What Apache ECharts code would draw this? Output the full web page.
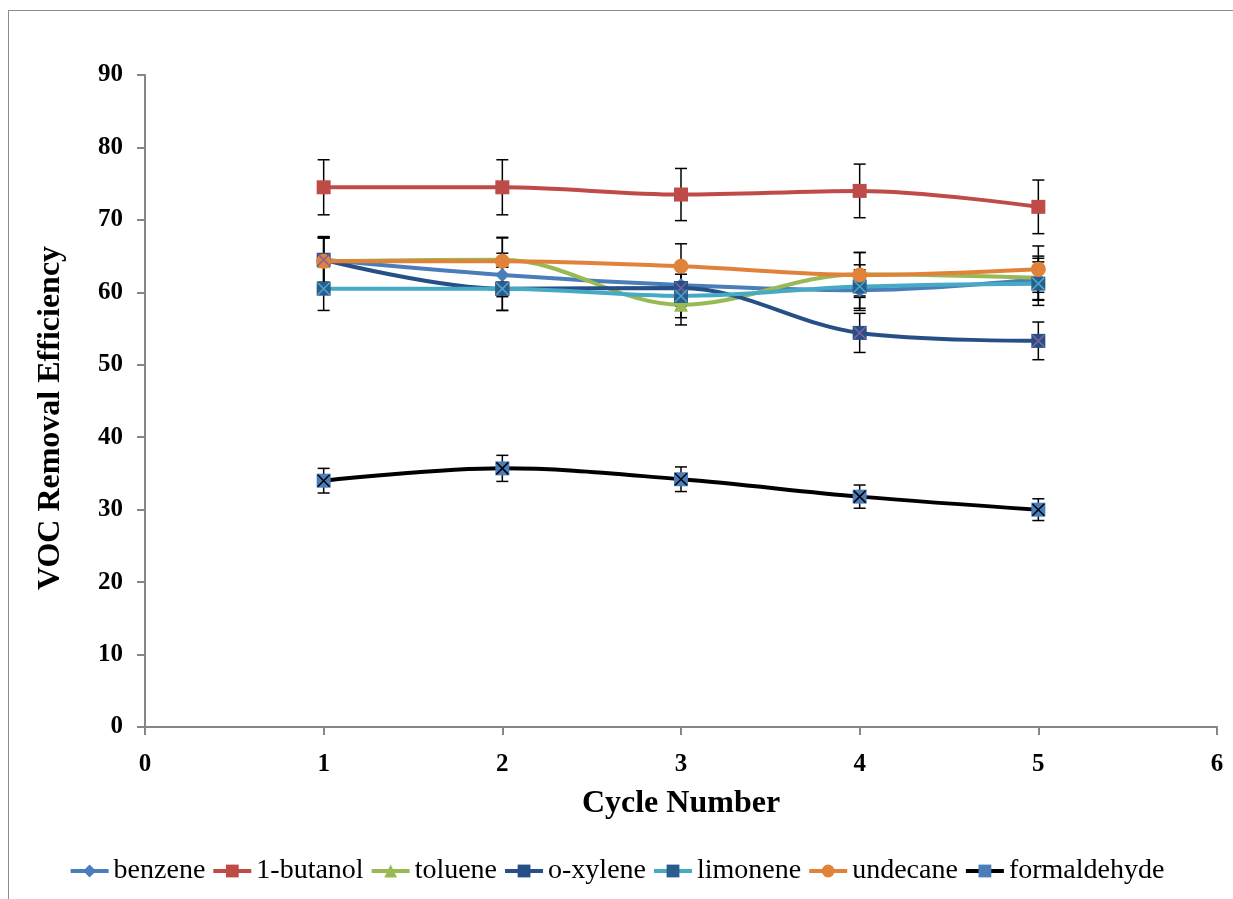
<!DOCTYPE html>
<html>
<head>
<meta charset="utf-8">
<script src="https://cdn.jsdelivr.net/npm/echarts@6/dist/echarts.min.js"></script>
<style>
  html, body { margin: 0; padding: 0; background: #fff; }
  #frame { position: absolute; left: 8px; top: 10px; width: 1240px; height: 900px;
           border-left: 1px solid #8c8c8c; border-top: 1px solid #8c8c8c; }
  #chart { position: absolute; left: 0; top: 0; width: 1233px; height: 899px; }
</style>
</head>
<body>
<div id="frame"></div>
<div id="chart"></div>
<script>
// Cycle numbers
const cycles = [1, 2, 3, 4, 5];

// Removal efficiency (%) per compound
const benzene      = [64.5, 62.4, 61.0, 60.3, 61.8];
const butanol      = [74.5, 74.5, 73.5, 74.0, 71.8];
const toluene      = [64.3, 64.5, 58.3, 62.5, 62.0];
const oXylene      = [64.5, 60.5, 60.6, 54.4, 53.3];
const limonene     = [60.5, 60.5, 59.5, 60.8, 61.2];
const undecane     = [64.3, 64.3, 63.6, 62.4, 63.2];
const formaldehyde = [34.0, 35.7, 34.2, 31.8, 30.0];

// Error (± value)
const benzeneErr      = [3.1, 3.0, 2.9, 2.8, 2.9];
const butanolErr      = [3.8, 3.8, 3.6, 3.7, 3.7];
const tolueneErr      = [3.2, 3.1, 2.8, 3.0, 3.0];
const oXyleneErr      = [3.2, 3.0, 3.0, 2.7, 2.6];
const limoneneErr     = [3.0, 3.0, 3.0, 3.0, 3.0];
const undecaneErr     = [3.2, 3.2, 3.1, 3.1, 3.2];
const formaldehydeErr = [1.7, 1.8, 1.7, 1.6, 1.5];

const names = ['benzene', '1-butanol', 'toluene', 'o-xylene', 'limonene', 'undecane', 'formaldehyde'];

const FONT = '"Liberation Serif", "Times New Roman", serif';

const specs = [
  { name: names[0], vals: benzene,      err: benzeneErr,      color: '#4a7ebb', symbol: 'diamond',  size: 14, fill: '#4a7ebb' },
  { name: names[1], vals: butanol,      err: butanolErr,      color: '#be4b48', symbol: 'rect',     size: 14, fill: '#be4b48' },
  { name: names[2], vals: toluene,      err: tolueneErr,      color: '#98b954', symbol: 'triangle', size: 14, fill: '#98b954' },
  { name: names[3], vals: oXylene,      err: oXyleneErr,      color: '#264f85', symbol: 'rect',     size: 14, fill: '#264f85', cross: '#7d60a0' },
  { name: names[4], vals: limonene,     err: limoneneErr,     color: '#46aac5', symbol: 'rect',     size: 14, fill: '#2a5d8f', cross: '#46aac5' },
  { name: names[5], vals: undecane,     err: undecaneErr,     color: '#e0823a', symbol: 'circle',   size: 15, fill: '#e0823a' },
  { name: names[6], vals: formaldehyde, err: formaldehydeErr, color: '#000000', symbol: 'rect',     size: 14, fill: '#4a7ebb', cross: '#000000' }
];

const series = [];

// Error bars for every compound, drawn first so lines sit on top
specs.forEach(function (s) {
  const errData = cycles.map(function (c, i) { return [c, s.vals[i] - s.err[i], s.vals[i] + s.err[i]]; });
  series.push({
    type: 'custom',
    name: s.name + '-err',
    data: errData,
    z: 1,
    silent: true,
    renderItem: function (params, api) {
      const x = api.value(0);
      const lo = api.coord([x, api.value(1)]);
      const hi = api.coord([x, api.value(2)]);
      const cap = 6;
      const st = { stroke: '#000', lineWidth: 1.5 };
      return {
        type: 'group',
        children: [
          { type: 'line', shape: { x1: lo[0], y1: lo[1], x2: hi[0], y2: hi[1] }, style: st },
          { type: 'line', shape: { x1: lo[0] - cap, y1: lo[1], x2: lo[0] + cap, y2: lo[1] }, style: st },
          { type: 'line', shape: { x1: hi[0] - cap, y1: hi[1], x2: hi[0] + cap, y2: hi[1] }, style: st }
        ]
      };
    }
  });
});

// Lines with markers
specs.forEach(function (s) {
  series.push({
    type: 'line',
    name: s.name,
    data: cycles.map(function (c, i) { return [c, s.vals[i]]; }),
    smooth: 0.35,
    z: 3,
    symbol: s.symbol,
    symbolSize: s.size,
    showAllSymbol: true,
    lineStyle: { color: s.color, width: 4 },
    itemStyle: { color: s.fill, borderColor: s.fill, borderWidth: 0 }
  });
});

// X glyphs inside square markers
specs.forEach(function (s) {
  if (!s.cross) return;
  series.push({
    type: 'custom',
    name: s.name + '-x',
    data: cycles.map(function (c, i) { return [c, s.vals[i]]; }),
    z: 4,
    silent: true,
    renderItem: function (params, api) {
      const p = api.coord([api.value(0), api.value(1)]);
      const h = 6;
      const st = { stroke: s.cross, lineWidth: 1.5 };
      return {
        type: 'group',
        children: [
          { type: 'line', shape: { x1: p[0] - h, y1: p[1] - h, x2: p[0] + h, y2: p[1] + h }, style: st },
          { type: 'line', shape: { x1: p[0] - h, y1: p[1] + h, x2: p[0] + h, y2: p[1] - h }, style: st }
        ]
      };
    }
  });
});

const chart = echarts.init(document.getElementById('chart'), null, { renderer: 'canvas' });
chart.setOption({
  animation: false,
  backgroundColor: 'transparent',
  grid: { left: 145, right: 16, top: 75, bottom: 172, containLabel: false },
  legend: {
    data: names,
    bottom: 9,
    left: 'center',
    itemWidth: 38,
    itemHeight: 16,
    itemGap: 6,
    lineStyle: { width: 4 },
    textStyle: { fontFamily: FONT, fontSize: 28, color: '#000' }
  },
  xAxis: {
    type: 'value',
    min: 0, max: 6, interval: 1,
    name: 'Cycle Number',
    nameLocation: 'middle',
    nameGap: 61,
    nameTextStyle: { fontFamily: FONT, fontSize: 32, fontWeight: 'bold', color: '#000' },
    axisLine: { lineStyle: { color: '#868686', width: 2 } },
    axisTick: { show: true, length: 8, lineStyle: { color: '#868686', width: 2 } },
    axisLabel: { fontFamily: FONT, fontSize: 25, fontWeight: 'bold', color: '#000', margin: 25 },
    splitLine: { show: false }
  },
  yAxis: {
    type: 'value',
    min: 0, max: 90, interval: 10,
    name: 'VOC Removal Efficiency',
    nameLocation: 'middle',
    nameGap: 78,
    nameTextStyle: { fontFamily: FONT, fontSize: 32, fontWeight: 'bold', color: '#000', padding: [0, 34, 0, 0] },
    axisLine: { show: true, lineStyle: { color: '#868686', width: 2 } },
    axisTick: { show: true, length: 8, lineStyle: { color: '#868686', width: 2 } },
    axisLabel: { fontFamily: FONT, fontSize: 25, fontWeight: 'bold', color: '#000', margin: 22 },
    splitLine: { show: false }
  },
  series: series
});
</script>
</body>
</html>
